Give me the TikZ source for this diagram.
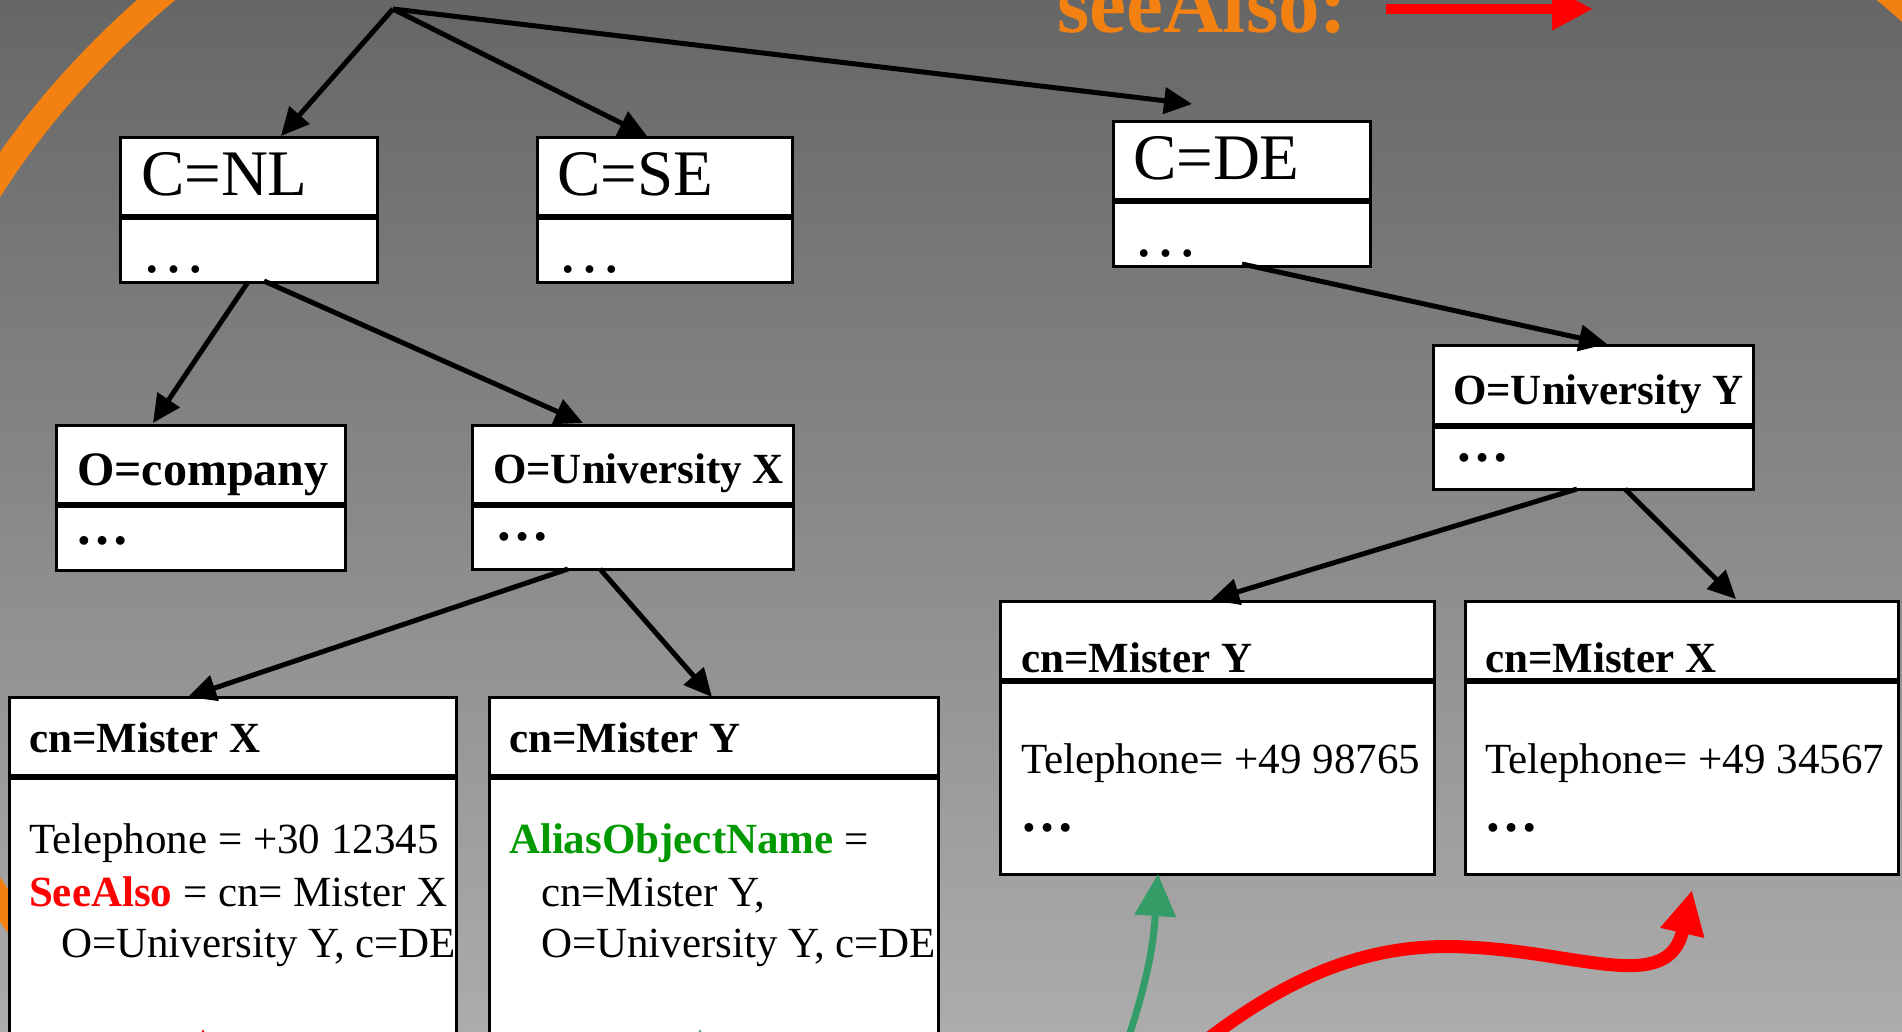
\documentclass[tikz,border=0pt]{standalone}
\usepackage{fontspec}
\setmainfont{Liberation Serif}
\usetikzlibrary{arrows.meta,calc}

\definecolor{bgtop}{RGB}{102,102,102}
\definecolor{bgbot}{RGB}{172,172,172}
\definecolor{ringorange}{RGB}{243,129,17}
\definecolor{aliasgreen}{RGB}{0,153,0}
\definecolor{linkgreen}{RGB}{52,156,102}
\definecolor{linkred}{RGB}{255,0,0}

% font sizes (1pt = 1 unit of the drawing)
\newcommand\szCountry{\fontsize{65}{70}\selectfont}
\newcommand\szOrg{\fontsize{43}{50}\selectfont}
\newcommand\szCompany{\fontsize{48}{54}\selectfont}
\newcommand\szEntry{\fontsize{43}{52}\selectfont}
\newcommand\szDots{\fontsize{54}{60}\selectfont}
\newcommand\szLegend{\fontsize{83}{90}\selectfont}

\tikzset{
  entrybox/.style={draw=black, line width=3pt, fill=white, rectangle,
    inner sep=0pt, outer sep=0pt, anchor=north west},
  seprule/.style={draw=black, line width=6pt},
  txt/.style={anchor=base west, inner sep=0pt, outer sep=0pt},
  treearrow/.style={draw=black, line width=5pt,
    -{Triangle[length=28pt,width=26pt]}},
  aliaslink/.style={draw=linkgreen, line width=7pt,
    -{Triangle[length=42pt,width=40pt]}},
  seealsolink/.style={draw=linkred, line width=13pt,
    -{Triangle[length=44pt,width=42pt]}},
}

\begin{document}
\begin{tikzpicture}[x=1pt,y=-1pt]
\useasboundingbox (0,0) rectangle (1902,1031);
\clip (0,0) rectangle (1902,1031);

% background
\shade[top color=bgtop, bottom color=bgbot] (0,0) rectangle (1902,1031);

% decorative ring
\draw[ringorange, line width=25pt] (1026,537) ellipse [x radius=1140pt, y radius=831pt];

% legend
\node[txt, font=\szLegend\bfseries, text=ringorange] (legend) at (1057,32) {seeAlso:};
\coordinate (keyA) at (1386,9);
\coordinate (keyB) at (1593,9);
\draw[linkred, line width=10pt, -{Triangle[length=41pt,width=40pt]}] (keyA) -- (keyB);

% root of the tree
\coordinate (root) at (393,9);

% country entries
\node[entrybox, minimum width=257pt, minimum height=145pt] (nl) at (120,137) {};
\node[entrybox, minimum width=255pt, minimum height=145pt] (se) at (537,137) {};
\node[entrybox, minimum width=257pt, minimum height=145pt] (de) at (1113,121) {};

% organisation entries
\node[entrybox, minimum width=289pt, minimum height=145pt] (co) at (56,425) {};
\node[entrybox, minimum width=321pt, minimum height=144pt] (ux) at (472,425) {};
\node[entrybox, minimum width=320pt, minimum height=144pt] (uy) at (1433,345) {};

% person entries
\node[entrybox, minimum width=447pt, minimum height=380pt] (lx) at (9,697) {};
\node[entrybox, minimum width=449pt, minimum height=380pt] (ly) at (489,697) {};
\node[entrybox, minimum width=434pt, minimum height=273pt] (ry) at (1000,601) {};
\node[entrybox, minimum width=433pt, minimum height=273pt] (rx) at (1465,601) {};

% compartment rules
\foreach \b/\d in {nl/80, se/80, de/80, co/80, ux/80, uy/81, lx/80, ly/80, ry/80, rx/80}
  \draw[seprule] ($(\b.north west)+(0,\d)$) -- ($(\b.north east)+(0,\d)$);

% country texts
\node[txt, font=\szCountry] at (141,195) {C=NL};
\node[txt, font=\szCountry] at (141,272) {…};
\node[txt, font=\szCountry] at (557,195) {C=SE};
\node[txt, font=\szCountry] at (557,272) {…};
\node[txt, font=\szCountry] at (1133,179) {C=DE};
\node[txt, font=\szCountry] at (1133,256) {…};

% organisation texts
\node[txt, font=\szCompany\bfseries] at (77,485) {O=company};
\node[txt, font=\szDots\bfseries] at (75,544) {…};
\node[txt, font=\szOrg\bfseries] at (493,483) {O=University X};
\node[txt, font=\szDots\bfseries] at (495,540) {…};
\node[txt, font=\szOrg\bfseries] at (1453,404) {O=University Y};
\node[txt, font=\szDots\bfseries] at (1455,461) {…};

% person texts (long lines run under the right border)
\begin{scope}
  \clip ($(lx.north west)+(1.5,1.5)$) rectangle ($(lx.south east)+(-1.5,-1.5)$);
  \node[txt, font=\szEntry\bfseries] at (29,752) {cn=Mister X};
  \node[txt, font=\szEntry] at (29,853) {Telephone = +30 12345};
  \node[txt, font=\szEntry] at (29,906) {{\bfseries\color{linkred}SeeAlso} = cn= Mister X};
  \node[txt, font=\szEntry] at (61,957) {O=University Y, c=DE};
\end{scope}
\begin{scope}
  \clip ($(ly.north west)+(1.5,1.5)$) rectangle ($(ly.south east)+(-1.5,-1.5)$);
  \node[txt, font=\szEntry\bfseries] at (509,752) {cn=Mister Y};
  \node[txt, font=\szEntry] at (509,853) {{\bfseries\color{aliasgreen}AliasObjectName} =};
  \node[txt, font=\szEntry] at (541,906) {cn=Mister Y,};
  \node[txt, font=\szEntry] at (541,957) {O=University Y, c=DE};
\end{scope}
\node[txt, font=\szEntry\bfseries] at (1021,672) {cn=Mister Y};
\node[txt, font=\szEntry] at (1021,773) {Telephone= +49 98765};
\node[txt, font=\szDots\bfseries] at (1020,831) {…};
\node[txt, font=\szEntry\bfseries] at (1485,672) {cn=Mister X};
\node[txt, font=\szEntry] at (1485,773) {Telephone= +49 34567};
\node[txt, font=\szDots\bfseries] at (1484,831) {…};

% tree connectors
\draw[treearrow] (root) -- ($(nl.north west)+(161,-1)$);
\draw[treearrow] (root) -- ($(se.north west)+(110,-1)$);
\draw[treearrow] (root) -- ($(de.north west)+(79,-17)$);
\draw[treearrow] ($(nl.south west)+(128,0)$) -- ($(co.north west)+(97,-2)$);
\draw[treearrow] ($(nl.south west)+(144,-1)$) -- ($(ux.north west)+(111,-2)$);
\draw[treearrow] ($(ux.south west)+(96,0)$) -- ($(lx.north west)+(179,0)$);
\draw[treearrow] ($(ux.south west)+(128,0)$) -- ($(ly.north west)+(223,0)$);
\draw[treearrow] ($(de.south west)+(129,-2)$) -- ($(uy.north west)+(174,-1)$);
\draw[treearrow] ($(uy.south west)+(144,0)$) -- ($(ry.north west)+(211,-1)$);
\draw[treearrow] ($(uy.south west)+(192,0)$) -- ($(rx.north west)+(271,-2)$);

% alias and see-also references
\coordinate (aliasfrom) at (1126,1045);
\coordinate (seealsofrom) at (1200,1045);
\draw[aliaslink] (aliasfrom) .. controls (1146,985) and (1153,950) .. ($(ry.south west)+(158,0)$);
\draw[seealsolink] (seealsofrom) .. controls (1290,975) and (1370,942) .. (1466,947)
  .. controls (1580,952) and (1668,995) .. ($(rx.south west)+(227,16)$);

% reference tips entering from below
\coordinate (redfoot) at (203,1060);
\coordinate (redtip) at (203,1029);
\coordinate (greenfoot) at (700,1060);
\coordinate (greentip) at (700,1029);
\draw[linkred, line width=4pt, -{Triangle[length=24pt,width=22pt]}] (redfoot) -- (redtip);
\draw[linkgreen, line width=4pt, -{Triangle[length=24pt,width=22pt]}] (greenfoot) -- (greentip);
\end{tikzpicture}
\end{document}
